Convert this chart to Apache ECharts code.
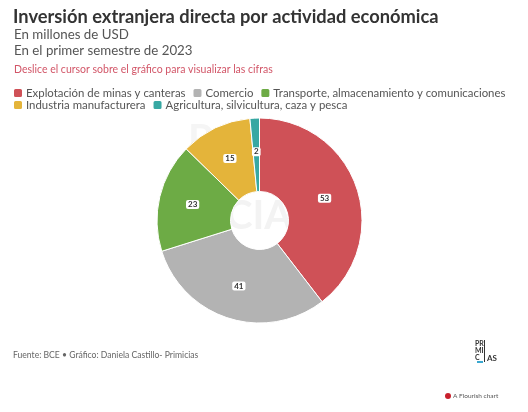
<!DOCTYPE html>
<html><head><meta charset="utf-8">
<script src="https://cdn.jsdelivr.net/npm/echarts@6/dist/echarts.min.js"></script>
<style>html,body{margin:0;padding:0;background:#fff}#c{width:528px;height:412px}</style>
</head><body><div id="c"></div>
<script>
const categories = ["Explotación de minas y canteras","Comercio","Transporte, almacenamiento y comunicaciones","Industria manufacturera","Agricultura, silvicultura, caza y pesca"];
const values = [53, 41, 23, 15, 2];
const colors = ["#cf5157","#b3b3b3","#6dab45","#e4b43a","#37a8a3"];
const FONT = "'Source Sans Pro', Lato, 'Noto Sans', sans-serif";

const legendBase = {
  left: 7, itemWidth: 10, itemHeight: 10, itemGap: 6, width: 520,
  icon: 'roundRect', selectedMode:false,
  textStyle:{fontFamily:FONT, fontSize:11.4, color:'#555', padding:[0,0,0,-2]}
};

const chart = echarts.init(document.getElementById('c'), null, {renderer:'canvas'});
chart.setOption({
  animation:false,
  color: colors,
  title: [
    {text:"Inversión extranjera directa por actividad económica", left:8, top:3,
     textStyle:{fontFamily:FONT, fontSize:18.3, fontWeight:'bold', color:'#333'}},
    {text:"En millones de USD", left:9, top:23, textStyle:{fontFamily:FONT, fontSize:13.3, fontWeight:'normal', color:'#555'}},
    {text:"En el primer semestre de 2023", left:9, top:39, textStyle:{fontFamily:FONT, fontSize:13.3, fontWeight:'normal', color:'#555'}},
    {text:"Deslice el cursor sobre el gráfico para visualizar las cifras", left:9, top:59, textStyle:{fontFamily:FONT, fontSize:10.5, fontWeight:'normal', color:'#d25668'}},
    {text:"Fuente: BCE • Gráfico: Daniela Castillo- Primicias", left:8, top:346, textStyle:{fontFamily:FONT, fontSize:8.6, fontWeight:'normal', color:'#666'}}
  ],
  legend: [
    Object.assign({}, legendBase, {top: 82, data: categories.slice(0,3)}),
    Object.assign({}, legendBase, {top: 94, data: categories.slice(3)})
  ],
  graphic: [
    {type:'text', z:-1, left:188, top:120, style:{text:'P', font:"bold 40px "+FONT, fill:'#f5f5f5'}},
    {type:'text', z:-1, left:226, top:196, style:{text:'CIA', font:"bold 40px "+FONT, fill:'#f3f3f3'}},
    {type:'text', left:475, top:340, style:{text:'PR\nMI\nC', font:"bold 7px "+FONT, fill:'#333', lineHeight:7}},
    {type:'rect', left:484, top:340, shape:{width:1, height:22}, style:{fill:'#333'}},
    {type:'text', left:487, top:354, style:{text:'AS', font:"bold 8px "+FONT, fill:'#333'}},
    {type:'rect', left:477, top:361, shape:{width:6, height:2}, style:{fill:'#3aa8d0'}},
    {type:'circle', shape:{cx:448, cy:396, r:3}, style:{fill:'#c8202c'}},
    {type:'text', left:453, top:392, style:{text:'A Flourish chart', font:"6.5px "+FONT, fill:'#555'}}
  ],
  series: [{
    type:'pie',
    center:[259.5, 220.5],
    radius:[29, 102.5],
    startAngle:90,
    clockwise:true,
    avoidLabelOverlap:false,
    itemStyle:{borderColor:'#fff', borderWidth:1},
    label:{show:true, position:'inside', formatter:'{c}', fontFamily:FONT, fontSize:8, fontWeight:'bold', color:'#333',
           backgroundColor:'#fff', padding:[1,2,0,2], borderRadius:2},
    labelLine:{show:false},
    emphasis:{disabled:true},
    data: categories.map((n,i)=>({name:n, value:values[i]}))
  }]
});
</script></body></html>
